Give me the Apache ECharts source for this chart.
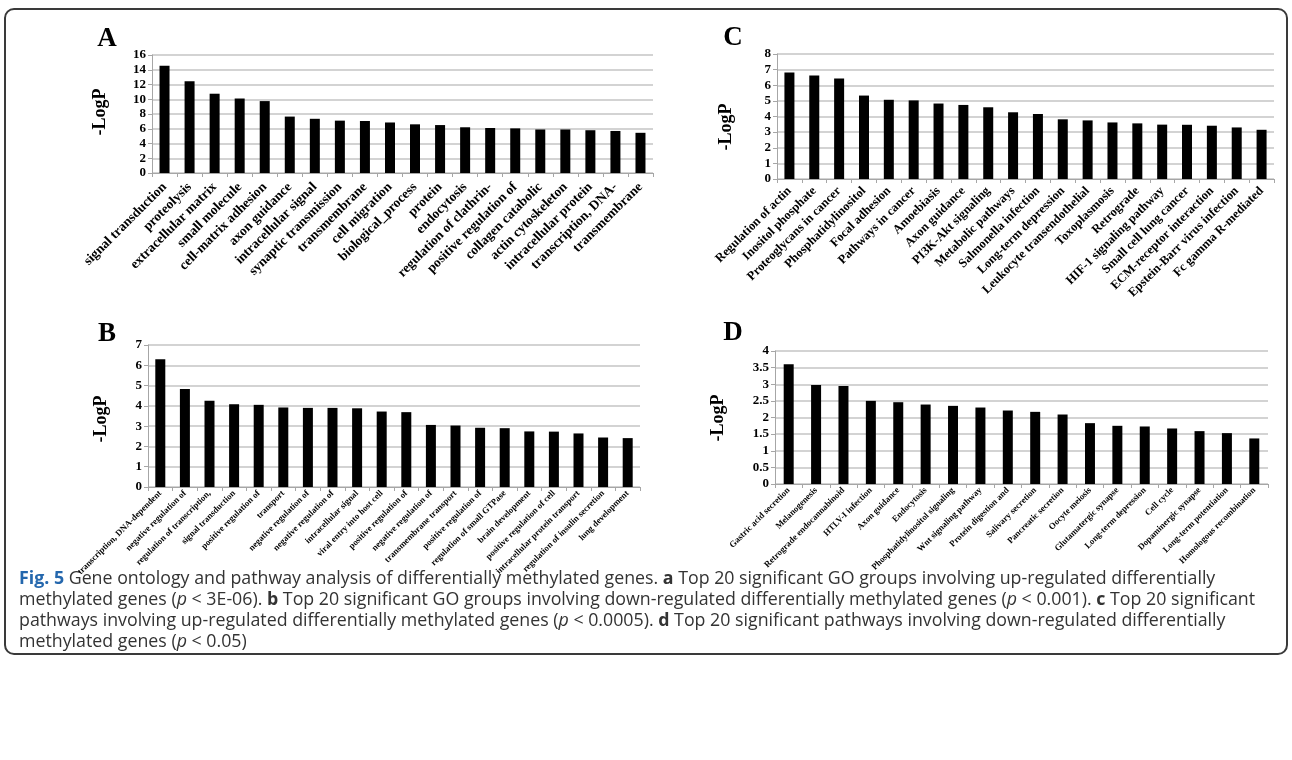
<!DOCTYPE html>
<html>
<head>
<meta charset="utf-8">
<script src="https://cdn.jsdelivr.net/npm/echarts@6/dist/echarts.min.js"></script>
<style>
  html, body { margin: 0; padding: 0; background: #fff; }
  #chart { width: 1292px; height: 760px; }
</style>
</head>
<body>
<div id="chart"></div>
<script>
// GO terms, up-regulated (panel A)
const catA = ['signal transduction', 'proteolysis', 'extracellular matrix', 'small molecule', 'cell-matrix adhesion',
  'axon guidance', 'intracellular signal', 'synaptic transmission', 'transmembrane', 'cell migration',
  'biological_process', 'protein', 'endocytosis', 'regulation of clathrin-', 'positive regulation of',
  'collagen catabolic', 'actin cytoskeleton', 'intracellular protein', 'transcription, DNA-', 'transmembrane'];
const valA = [14.55, 12.45, 10.75, 10.1, 9.75, 7.65, 7.35, 7.1, 7.05, 6.85, 6.6, 6.5, 6.2, 6.1, 6.05, 5.9, 5.9, 5.8, 5.7, 5.45];

// GO terms, down-regulated (panel B)
const catB = ['transcription, DNA-dependent', 'negative regulation of', 'regulation of transcription,', 'signal transduction',
  'positive regulation of', 'transport', 'negative regulation of', 'negative regulation of', 'intracellular signal',
  'viral entry into host cell', 'positive regulation of', 'negative regulation of', 'transmembrane transport',
  'positive regulation of', 'regulation of small GTPase', 'brain development', 'positive regulation of cell',
  'intracellular protein transport', 'regulation of insulin secretion', 'lung development'];
const valB = [6.3, 4.83, 4.25, 4.08, 4.05, 3.92, 3.9, 3.9, 3.88, 3.72, 3.69, 3.06, 3.03, 2.92, 2.9, 2.74, 2.73, 2.64, 2.44, 2.41];

// Pathways, up-regulated (panel C)
const catC = ['Regulation of actin', 'Inositol phosphate', 'Proteoglycans in cancer', 'Phosphatidylinositol', 'Focal adhesion',
  'Pathways in cancer', 'Amoebiasis', 'Axon guidance', 'PI3K-Akt signaling', 'Metabolic pathways',
  'Salmonella infection', 'Long-term depression', 'Leukocyte transendothelial', 'Toxoplasmosis', 'Retrograde',
  'HIF-1 signaling pathway', 'Small cell lung cancer', 'ECM-receptor interaction', 'Epstein-Barr virus infection', 'Fc gamma R-mediated'];
const valC = [6.82, 6.63, 6.43, 5.34, 5.07, 5.03, 4.83, 4.74, 4.59, 4.27, 4.16, 3.82, 3.75, 3.62, 3.56, 3.48, 3.47, 3.41, 3.3, 3.15];

// Pathways, down-regulated (panel D)
const catD = ['Gastric acid secretion', 'Melanogenesis', 'Retrograde endocannabinoid', 'HTLV-I infection', 'Axon guidance',
  'Endocytosis', 'Phosphatidylinositol signaling', 'Wnt signaling pathway', 'Protein digestion and', 'Salivary secretion',
  'Pancreatic secretion', 'Oocyte meiosis', 'Glutamatergic synapse', 'Long-term depression', 'Cell cycle',
  'Dopaminergic synapse', 'Long-term potentiation', 'Homologous recombination'];
const valD = [3.6, 2.98, 2.95, 2.5, 2.46, 2.39, 2.35, 2.3, 2.21, 2.17, 2.09, 1.83, 1.75, 1.73, 1.67, 1.59, 1.53, 1.37];

// y-axis scales per panel
const yMax = [16, 7, 8, 4];
const yStep = [2, 1, 1, 0.5];

const panels = [
  { cats: catA, vals: valA, grid: { left: 152, top: 55, width: 501, height: 118 }, lblSize: 13.5, lblMargin: 12 },
  { cats: catB, vals: valB, grid: { left: 148, top: 345, width: 492, height: 142 }, lblSize: 8.8, lblMargin: 5 },
  { cats: catC, vals: valC, grid: { left: 777, top: 54, width: 497, height: 125 }, lblSize: 12.5, lblMargin: 10 },
  { cats: catD, vals: valD, grid: { left: 775, top: 351, width: 493, height: 133 }, lblSize: 8.8, lblMargin: 5 }
];

const serif = '"Liberation Serif", "DejaVu Serif", serif';
const sans = '"Open Sans", "Noto Sans", Arial, sans-serif';
const axisGray = '#a6a6a6';

const grids = [], xAxes = [], yAxes = [], series = [];
panels.forEach((p, i) => {
  grids.push(Object.assign({ containLabel: false }, p.grid));
  xAxes.push({
    type: 'category', gridIndex: i, data: p.cats,
    axisLine: { show: true, lineStyle: { color: axisGray, width: 1 } },
    axisTick: { show: true, length: 4, lineStyle: { color: axisGray } },
    axisLabel: {
      interval: 0, rotate: 45, margin: p.lblMargin,
      fontFamily: serif, fontWeight: 'bold', fontSize: p.lblSize, color: '#000'
    }
  });
  yAxes.push({
    type: 'value', gridIndex: i, min: 0, max: yMax[i], interval: yStep[i],
    axisLine: { show: true, lineStyle: { color: axisGray, width: 1 } },
    axisTick: { show: true, length: 4, lineStyle: { color: axisGray } },
    splitLine: { show: true, lineStyle: { color: '#c4c4c4', width: 1.5 } },
    axisLabel: { margin: 6, fontFamily: serif, fontWeight: 'bold', fontSize: 13, color: '#000' }
  });
  series.push({
    type: 'bar', xAxisIndex: i, yAxisIndex: i, data: p.vals,
    barWidth: 10, itemStyle: { color: '#000' }, silent: true, animation: false
  });
});

// Panel letters and y-axis titles
const letters = [['A', 107, 39], ['B', 107, 334], ['C', 733, 38], ['D', 733, 333]];
const yTitles = [[100, 112], [101, 419], [726, 127], [718, 418]];
const graphic = [];
letters.forEach(([t, x, y]) => graphic.push({
  type: 'text', x, y,
  style: { text: t, font: 'bold 27px ' + serif, fill: '#000', align: 'center', verticalAlign: 'middle' }
}));
yTitles.forEach(([x, y]) => graphic.push({
  type: 'text', x, y, rotation: Math.PI / 2,
  style: { text: '-LogP', font: 'bold 18px ' + serif, fill: '#000', align: 'center', verticalAlign: 'middle' }
}));

// Figure frame
graphic.push({
  type: 'rect', shape: { x: 5, y: 9, width: 1282, height: 645, r: 9 },
  style: { fill: 'none', stroke: '#3a3a3a', lineWidth: 2 }
});

// Figure legend
const captionLines = [
  '{fig|Fig. 5} Gene ontology and pathway analysis of differentially methylated genes. {b|a} Top 20 significant GO groups involving up-regulated differentially',
  'methylated genes ({i|p} < 3E-06). {b|b} Top 20 significant GO groups involving down-regulated differentially methylated genes ({i|p} < 0.001). {b|c} Top 20 significant',
  'pathways involving up-regulated differentially methylated genes ({i|p} < 0.0005). {b|d} Top 20 significant pathways involving down-regulated differentially',
  'methylated genes ({i|p} < 0.05)'
];
const capSize = 17.8;
const capRich = {
  fig: { fontFamily: sans, fontWeight: 'bold', fontSize: capSize, fill: '#2467ad' },
  b: { fontFamily: sans, fontWeight: 'bold', fontSize: capSize, fill: '#333' },
  i: { fontFamily: sans, fontStyle: 'italic', fontSize: capSize, fill: '#333' }
};
captionLines.forEach((line, k) => graphic.push({
  type: 'text', x: 19, y: 579 + k * 21,
  style: { text: line, font: capSize + 'px ' + sans, fill: '#333', verticalAlign: 'middle', rich: capRich }
}));

const chart = echarts.init(document.getElementById('chart'), null, { renderer: 'canvas' });
chart.setOption({
  backgroundColor: '#fff',
  animation: false,
  grid: grids, xAxis: xAxes, yAxis: yAxes, series, graphic
});
</script>
</body>
</html>
